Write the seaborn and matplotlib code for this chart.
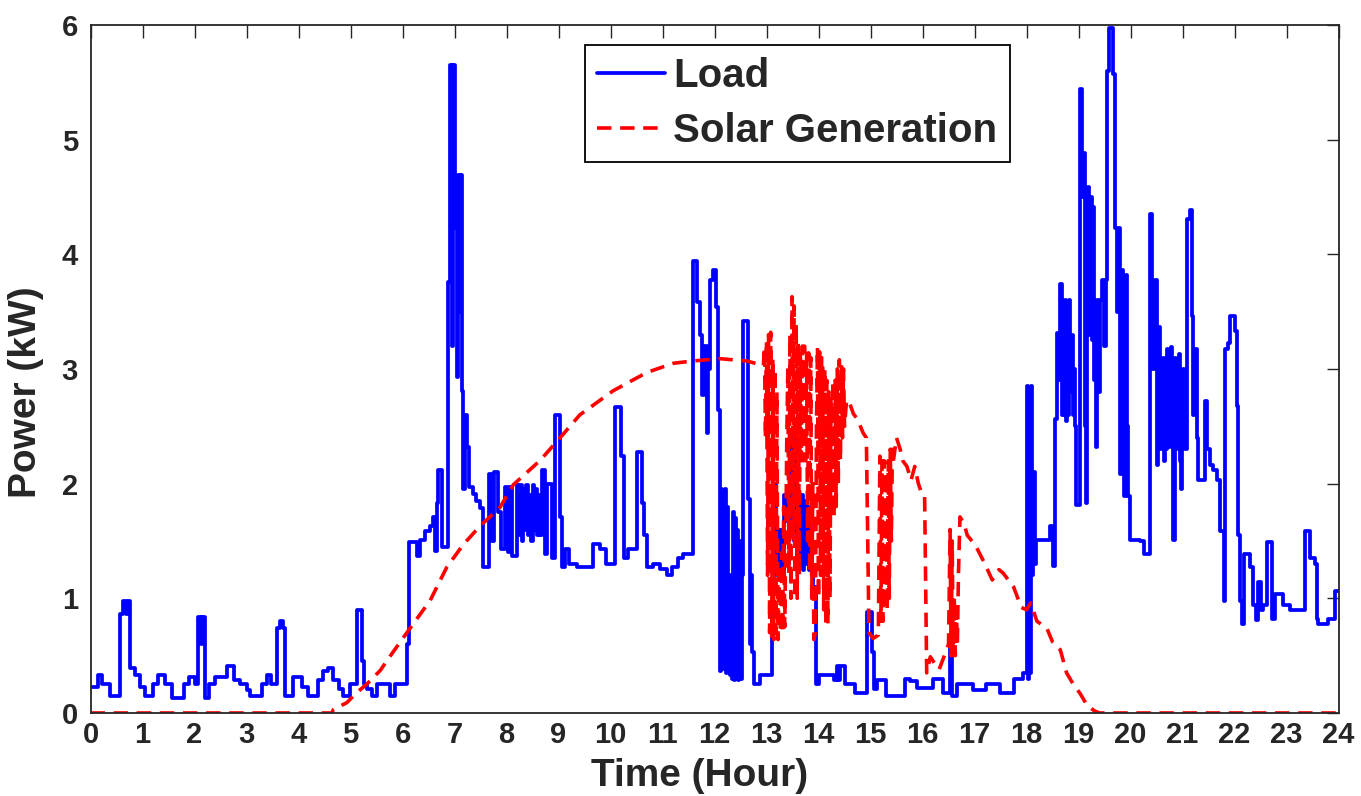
import matplotlib
matplotlib.use("Agg")
import matplotlib.pyplot as plt
import seaborn as sns
import pandas as pd

# ---------------- data ----------------
# Load: (hour, kW) step points
load_night = [
    (0.00, 0.23), (0.15, 0.33), (0.22, 0.25), (0.37, 0.15), (0.57, 0.86), (0.62, 0.98), (0.68, 0.86),
    (0.72, 0.98), (0.76, 0.39), (0.86, 0.33), (0.95, 0.23), (1.05, 0.15), (1.21, 0.25), (1.30, 0.33),
    (1.43, 0.25), (1.56, 0.13), (1.79, 0.25), (1.90, 0.31), (2.01, 0.25), (2.07, 0.84), (2.12, 0.60),
    (2.15, 0.84), (2.20, 0.13), (2.27, 0.25), (2.40, 0.31), (2.62, 0.41), (2.75, 0.29), (2.88, 0.25),
    (3.00, 0.20), (3.07, 0.15), (3.29, 0.25), (3.39, 0.33), (3.48, 0.25), (3.58, 0.74), (3.64, 0.80),
    (3.70, 0.74), (3.74, 0.15), (3.90, 0.31), (4.06, 0.23), (4.19, 0.15), (4.38, 0.29), (4.48, 0.37),
    (4.57, 0.39), (4.67, 0.29), (4.77, 0.21), (4.86, 0.15), (4.99, 0.25), (5.12, 0.90), (5.22, 0.45),
    (5.26, 0.25), (5.31, 0.21), (5.41, 0.15), (5.50, 0.25), (5.76, 0.15), (5.86, 0.25),
]
load_morning = [
    (6.08, 0.60), (6.12, 1.49), (6.27, 1.37), (6.34, 1.51), (6.43, 1.59), (6.53, 1.63), (6.59, 1.71),
    (6.63, 1.41), (6.66, 1.83), (6.69, 2.12), (6.75, 1.45), (6.88, 3.76), (6.91, 5.65), (6.96, 3.20),
    (6.98, 5.65), (7.01, 4.23), (7.04, 2.93), (7.06, 4.69), (7.10, 3.50), (7.12, 4.69), (7.14, 2.81),
    (7.17, 1.95), (7.20, 2.60), (7.24, 2.32), (7.27, 1.97), (7.36, 1.91), (7.42, 1.85), (7.49, 1.79),
    (7.55, 1.27), (7.67, 2.08), (7.72, 1.50), (7.76, 2.10), (7.84, 1.75), (7.90, 1.43), (7.97, 1.97),
    (8.02, 1.40), (8.06, 1.97), (8.10, 1.37), (8.20, 1.99), (8.23, 1.55), (8.26, 1.99), (8.29, 1.50),
    (8.32, 1.95), (8.35, 1.60), (8.38, 1.99), (8.41, 1.55), (8.44, 1.90), (8.47, 1.50), (8.50, 1.99),
    (8.53, 1.60), (8.56, 1.95), (8.59, 1.55), (8.62, 1.90), (8.65, 1.55), (8.68, 2.12), (8.74, 1.39),
    (8.78, 2.00), (8.87, 1.35), (8.93, 2.60), (9.03, 1.71), (9.07, 1.27), (9.12, 1.43), (9.20, 1.30),
    (9.35, 1.27), (9.67, 1.47), (9.80, 1.43), (9.92, 1.30), (10.09, 2.67), (10.21, 2.24), (10.26, 1.35),
    (10.34, 1.43), (10.50, 2.28), (10.60, 1.83), (10.65, 1.55), (10.70, 1.27), (10.82, 1.30),
    (10.95, 1.26), (11.08, 1.20), (11.18, 1.27), (11.30, 1.35), (11.40, 1.39),
]
load_afternoon = [
    (11.59, 3.94), (11.66, 3.58), (11.72, 3.30), (11.76, 2.77), (11.80, 3.20), (11.85, 2.44),
    (11.88, 3.00), (11.91, 3.78), (11.98, 3.86), (12.03, 3.54), (12.07, 2.64), (12.10, 0.37),
    (12.12, 1.95), (12.14, 0.40), (12.16, 1.90), (12.18, 0.38), (12.20, 1.95), (12.22, 0.35),
    (12.24, 1.80), (12.26, 0.40), (12.28, 1.20), (12.30, 0.33), (12.32, 1.14), (12.34, 0.30),
    (12.36, 1.75), (12.38, 0.29), (12.40, 1.70), (12.42, 0.30), (12.44, 1.60), (12.46, 0.29),
    (12.48, 1.50), (12.50, 0.30), (12.52, 1.20), (12.55, 3.42), (12.65, 1.87), (12.68, 0.60),
    (12.70, 1.20), (12.72, 0.53), (12.75, 0.25), (12.88, 0.33), (13.10, 0.82), (13.13, 1.55),
    (13.16, 2.00), (13.19, 1.20), (13.22, 1.60), (13.25, 1.27), (13.28, 1.60), (13.31, 1.25),
    (13.34, 1.90), (13.37, 1.67), (13.40, 1.90), (13.43, 1.60), (13.46, 2.00), (13.48, 2.40),
    (13.52, 1.50), (13.55, 1.90), (13.58, 1.30), (13.61, 1.85), (13.64, 1.30), (13.67, 1.90),
    (13.70, 1.25), (13.73, 1.85), (13.76, 1.30), (13.79, 1.80), (13.82, 1.25), (13.85, 1.60),
    (13.88, 1.20), (13.90, 1.10), (13.96, 0.25), (14.00, 0.33), (14.29, 0.29), (14.35, 0.41),
    (14.38, 0.29), (14.41, 0.41), (14.50, 0.25), (14.70, 0.17), (14.93, 0.88), (15.02, 0.53),
    (15.06, 0.21), (15.12, 0.29), (15.30, 0.15), (15.66, 0.30), (15.76, 0.28), (15.89, 0.22),
    (16.21, 0.30), (16.40, 0.17), (16.52, 0.64), (16.56, 0.15), (16.66, 0.25), (16.98, 0.20),
    (17.23, 0.25), (17.49, 0.17), (17.75, 0.30), (17.94, 0.35),
]
load_evening = [
    (18.00, 2.85), (18.02, 0.30), (18.04, 2.80), (18.06, 0.35), (18.08, 2.85), (18.10, 1.20),
    (18.13, 2.10), (18.16, 1.30), (18.19, 1.51), (18.45, 1.63), (18.50, 1.28), (18.54, 2.56),
    (18.58, 3.31), (18.62, 2.90), (18.65, 3.74), (18.68, 2.60), (18.70, 3.54), (18.72, 2.60),
    (18.74, 3.60), (18.76, 2.55), (18.78, 3.50), (18.80, 2.60), (18.82, 3.60), (18.84, 2.80),
    (18.87, 3.30), (18.89, 2.60), (18.91, 3.00), (18.93, 2.50), (18.96, 1.81), (19.03, 5.44),
    (19.07, 4.50), (19.10, 4.88), (19.12, 2.50), (19.14, 1.83), (19.16, 3.90), (19.18, 4.59),
    (19.21, 3.30), (19.23, 4.50), (19.25, 3.25), (19.28, 4.41), (19.30, 2.90), (19.33, 2.32),
    (19.36, 3.60), (19.38, 2.80), (19.41, 3.60), (19.45, 3.78), (19.49, 3.20), (19.52, 3.78),
    (19.54, 5.60), (19.59, 5.97), (19.67, 5.57), (19.70, 4.23), (19.74, 3.50), (19.77, 4.23),
    (19.80, 2.08), (19.83, 3.86), (19.86, 2.50), (19.88, 1.89), (19.91, 3.82), (19.93, 2.50),
    (19.95, 1.89), (19.99, 1.51), (20.18, 1.50), (20.25, 1.39), (20.38, 4.35), (20.42, 3.00),
    (20.47, 3.78), (20.50, 2.16), (20.52, 3.10), (20.54, 3.37), (20.56, 2.30), (20.58, 2.50),
    (20.60, 3.00), (20.62, 3.10), (20.64, 2.20), (20.66, 2.90), (20.68, 2.30), (20.70, 3.17),
    (20.72, 2.40), (20.74, 2.32), (20.76, 3.10), (20.78, 3.19), (20.80, 2.40), (20.82, 1.51),
    (20.85, 3.10), (20.87, 2.30), (20.89, 2.40), (20.91, 3.00), (20.93, 3.13), (20.95, 2.20),
    (20.97, 1.95), (20.99, 2.90), (21.01, 3.00), (21.03, 2.40), (21.05, 2.30), (21.08, 4.31),
    (21.14, 4.39), (21.18, 3.46), (21.21, 2.60), (21.24, 3.17), (21.27, 2.40), (21.29, 2.03),
    (21.43, 2.72), (21.48, 2.30), (21.53, 2.16), (21.59, 2.12), (21.66, 2.03), (21.72, 1.59),
    (21.79, 0.98), (21.82, 3.17), (21.88, 3.23), (21.91, 3.46), (22.01, 3.33), (22.05, 2.68),
    (22.07, 1.55), (22.10, 0.98), (22.14, 0.78), (22.18, 1.39), (22.30, 1.27), (22.36, 0.94),
    (22.41, 0.81), (22.46, 1.14), (22.50, 0.90), (22.55, 0.94), (22.62, 1.49), (22.72, 0.82),
    (22.78, 1.04), (22.94, 0.94), (23.07, 0.90), (23.36, 1.59), (23.45, 1.35), (23.55, 1.30),
    (23.58, 0.82), (23.61, 0.78), (23.80, 0.82), (23.93, 1.06), (24.00, 1.06),
]

# Solar generation: (hour, kW) points
solar_rise = [
    (0.00, 0.00), (4.64, 0.00), (4.67, 0.03), (4.93, 0.09), (5.10, 0.17), (5.31, 0.25), (5.57, 0.37),
    (5.80, 0.52), (6.02, 0.66), (6.21, 0.78), (6.53, 0.98), (6.85, 1.27), (7.17, 1.47), (7.49, 1.63),
    (7.87, 1.79), (8.13, 1.99), (8.64, 2.20), (9.03, 2.40), (9.41, 2.60), (10.05, 2.81), (10.70, 2.97),
    (11.21, 3.05), (11.59, 3.07), (12.10, 3.09), (12.62, 3.07), (12.94, 3.03),
]
solar_cloudy = [
    (12.96, 3.19), (12.98, 2.40), (13.00, 3.25), (13.02, 1.20), (13.04, 3.30), (13.06, 0.70),
    (13.08, 3.32), (13.10, 0.64), (13.12, 3.10), (13.14, 0.64), (13.16, 3.00), (13.18, 0.70),
    (13.20, 2.80), (13.22, 0.64), (13.25, 1.22), (13.27, 0.70), (13.29, 1.40), (13.31, 0.70),
    (13.33, 1.80), (13.35, 0.75), (13.37, 1.50), (13.39, 2.40), (13.41, 3.02), (13.43, 1.22),
    (13.45, 3.30), (13.47, 1.00), (13.49, 3.63), (13.51, 1.50), (13.53, 3.55), (13.55, 1.00),
    (13.57, 3.40), (13.59, 1.00), (13.61, 3.25), (13.63, 1.20), (13.65, 3.16), (13.67, 2.20),
    (13.69, 3.20), (13.71, 2.20), (13.73, 3.20), (13.75, 2.20), (13.77, 3.15), (13.79, 1.50),
    (13.81, 3.14), (13.83, 1.22), (13.85, 3.10), (13.87, 1.00), (13.89, 2.00), (13.91, 0.64),
    (13.94, 0.70), (13.96, 2.50), (13.98, 3.19), (14.00, 1.00), (14.02, 3.15), (14.04, 1.20),
    (14.06, 3.10), (14.08, 3.08), (14.10, 0.90), (14.12, 3.00), (14.14, 0.78), (14.16, 2.90),
    (14.18, 0.78), (14.20, 2.80), (14.22, 1.00), (14.24, 2.76), (14.26, 1.71), (14.28, 2.90),
    (14.30, 1.71), (14.32, 2.90), (14.34, 1.80), (14.36, 3.00), (14.38, 2.00), (14.40, 3.08),
    (14.42, 2.20), (14.44, 3.05), (14.46, 2.40), (14.48, 3.00), (14.50, 2.50), (14.54, 2.73),
    (14.60, 2.70), (14.67, 2.61), (14.75, 2.56), (14.86, 2.44), (14.92, 2.40), (14.97, 0.70),
    (15.05, 0.65), (15.15, 0.68), (15.18, 2.24), (15.20, 0.80), (15.22, 2.20), (15.24, 0.80),
    (15.26, 2.20), (15.28, 0.90), (15.30, 2.10), (15.32, 0.90), (15.34, 2.20), (15.36, 1.00),
    (15.38, 2.30), (15.40, 1.50), (15.42, 2.30), (15.44, 2.20), (15.50, 2.40), (15.57, 2.30),
    (15.62, 2.20), (15.70, 2.15), (15.78, 2.03), (15.85, 2.15), (15.92, 2.00), (15.98, 1.92),
    (16.04, 1.90), (16.08, 0.35), (16.15, 0.49), (16.25, 0.42), (16.32, 0.38), (16.42, 0.50),
    (16.50, 0.60), (16.53, 1.60), (16.55, 0.50), (16.57, 1.50), (16.59, 0.50), (16.61, 1.00),
    (16.63, 0.50), (16.65, 0.90), (16.67, 0.60), (16.69, 1.20), (16.72, 1.71),
]
solar_set = [
    (16.80, 1.65), (16.86, 1.55), (17.02, 1.46), (17.20, 1.30), (17.34, 1.16), (17.47, 1.25),
    (17.55, 1.22), (17.75, 1.10), (17.90, 0.92), (18.00, 0.90), (18.08, 0.96), (18.20, 0.80),
    (18.39, 0.74), (18.50, 0.62), (18.65, 0.55), (18.77, 0.35), (18.90, 0.25), (19.03, 0.17),
    (19.16, 0.07), (19.30, 0.02), (19.40, 0.00), (24.00, 0.00),
]

x_ticks = list(range(0, 25))
y_ticks = [0, 1, 2, 3, 4, 5, 6]
series_names = ["Load", "Solar Generation"]

load_pts = load_night + load_morning + load_afternoon + load_evening
solar_pts = solar_rise + solar_cloudy + solar_set
load_df = pd.DataFrame(load_pts, columns=["t", "p"])
solar_df = pd.DataFrame(solar_pts, columns=["t", "p"])

# ---------------- style ----------------
sns.set_theme(style="white")
plt.rcParams["font.family"] = ["Liberation Sans", "DejaVu Sans"]
plt.rcParams["font.weight"] = "bold"

fig = plt.figure(figsize=(13.61, 7.96), dpi=100)
ax = fig.add_axes([0.0665, 0.1043, 0.9170, 0.8643])

sns.lineplot(data=load_df, x="t", y="p", ax=ax, color="#0000FF", linewidth=2.7,
             drawstyle="steps-post", estimator=None, sort=False, label=series_names[0])
sns.lineplot(data=solar_df, x="t", y="p", ax=ax, color="#FF0000", linewidth=2.6,
             linestyle=(0, (4.0, 2.4)), estimator=None, sort=False, label=series_names[1])

ax.set_xlim(0, 24)
ax.set_ylim(0, 6)
ax.set_xticks(x_ticks)
ax.set_yticks(y_ticks)
ax.set_xticklabels([str(v) for v in x_ticks])
ax.set_yticklabels([str(v) for v in y_ticks])

for sp in ax.spines.values():
    sp.set_visible(True)
    sp.set_color("#262626")
    sp.set_linewidth(1.3)

ax.tick_params(axis="both", which="major", direction="in", length=9, width=1.0,
               color="#262626", top=True, right=True, labelsize=21)
ax.tick_params(axis="x", pad=6)
ax.tick_params(axis="y", pad=9)
for lab in ax.get_xticklabels() + ax.get_yticklabels():
    lab.set_fontweight("bold")

ax.set_xlabel("Time (Hour)", fontsize=28, fontweight="bold")
ax.set_ylabel("Power (kW)", fontsize=28, fontweight="bold")
ax.xaxis.set_label_coords(0.488, -0.066)
ax.yaxis.set_label_coords(-0.037, 0.467)

leg = ax.legend(loc="upper left", bbox_to_anchor=(0.396, 0.971), fontsize=29,
                frameon=True, fancybox=False, framealpha=1, edgecolor="black",
                handlelength=1.7, handletextpad=0.2, borderpad=0.3,
                labelspacing=0.42, borderaxespad=0)
leg.get_frame().set_linewidth(1.3)
for txt in leg.get_texts():
    txt.set_fontweight("bold")

fig.savefig("out.png", dpi=100)
